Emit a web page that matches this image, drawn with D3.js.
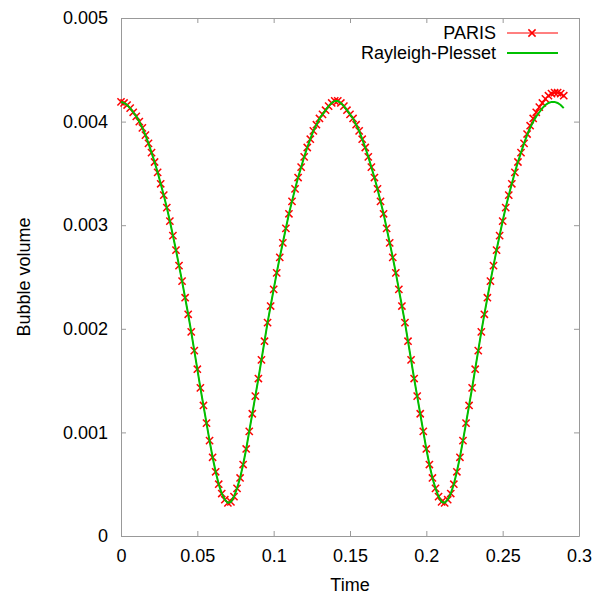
<!DOCTYPE html>
<html>
<head>
<meta charset="utf-8">
<script src="https://cdn.jsdelivr.net/npm/d3@7"></script>
<style>
  html, body { margin: 0; padding: 0; background: #fff; }
  svg { display: block; }
  text { font-family: "Liberation Sans", Arial, sans-serif; }
</style>
</head>
<body>
<svg id="chart" width="594" height="595"></svg>
<script>
// ---- Data ----
const times = [
  0.000,0.002,0.004,0.006,0.008,0.010,0.012,0.014,0.016,0.018,
  0.020,0.022,0.024,0.026,0.028,0.030,0.032,0.034,0.036,0.038,
  0.040,0.042,0.044,0.046,0.048,0.050,0.052,0.054,0.056,0.058,
  0.060,0.062,0.064,0.066,0.068,0.070,0.072,0.074,0.076,0.078,
  0.080,0.082,0.084,0.086,0.088,0.090,0.092,0.094,0.096,0.098,
  0.100,0.102,0.104,0.106,0.108,0.110,0.112,0.114,0.116,0.118,
  0.120,0.122,0.124,0.126,0.128,0.130,0.132,0.134,0.136,0.138,
  0.140,0.142,0.144,0.146,0.148,0.150,0.152,0.154,0.156,0.158,
  0.160,0.162,0.164,0.166,0.168,0.170,0.172,0.174,0.176,0.178,
  0.180,0.182,0.184,0.186,0.188,0.190,0.192,0.194,0.196,0.198,
  0.200,0.202,0.204,0.206,0.208,0.210,0.212,0.214,0.216,0.218,
  0.220,0.222,0.224,0.226,0.228,0.230,0.232,0.234,0.236,0.238,
  0.240,0.242,0.244,0.246,0.248,0.250,0.252,0.254,0.256,0.258,
  0.260,0.262,0.264,0.266,0.268,0.270,0.272,0.274,0.276,0.278,
  0.280,0.282,0.284,0.286,0.288,0.290
];

const parisVolume = [
  0.00419,0.00418,0.00416,0.00413,0.00409,0.00405,0.00400,0.00394,0.00387,0.00379,
  0.00370,0.00361,0.00351,0.00340,0.00329,0.00317,0.00304,0.00290,0.00276,0.00261,
  0.00246,0.00230,0.00214,0.00197,0.00179,0.00161,0.00143,0.00126,0.00109,0.00092,
  0.00076,0.00062,0.00050,0.00041,0.00035,0.00032,0.00033,0.00038,0.00046,0.00056,
  0.00069,0.00084,0.00101,0.00118,0.00135,0.00152,0.00170,0.00188,0.00206,0.00222,
  0.00238,0.00254,0.00269,0.00283,0.00297,0.00311,0.00323,0.00335,0.00346,0.00356,
  0.00366,0.00375,0.00383,0.00391,0.00397,0.00403,0.00407,0.00411,0.00415,0.00418,
  0.00420,0.00420,0.00418,0.00415,0.00411,0.00407,0.00403,0.00397,0.00391,0.00383,
  0.00375,0.00366,0.00356,0.00346,0.00335,0.00323,0.00311,0.00297,0.00283,0.00269,
  0.00254,0.00238,0.00222,0.00206,0.00188,0.00170,0.00152,0.00135,0.00118,0.00101,
  0.00084,0.00069,0.00056,0.00046,0.00038,0.00033,0.00032,0.00035,0.00041,0.00050,
  0.00062,0.00076,0.00092,0.00109,0.00126,0.00143,0.00161,0.00179,0.00197,0.00214,
  0.00230,0.00246,0.00261,0.00276,0.00290,0.00304,0.00317,0.00329,0.00340,0.00351,
  0.00361,0.00370,0.00379,0.00388,0.00396,0.00403,0.00409,0.00414,0.00418,0.00422,
  0.00425,0.00427,0.00428,0.00428,0.00427,0.00425
];

const rpVolume = [
  0.00419,0.00418,0.00416,0.00413,0.00409,0.00405,0.00400,0.00394,0.00387,0.00379,
  0.00370,0.00361,0.00351,0.00340,0.00329,0.00317,0.00304,0.00290,0.00276,0.00261,
  0.00246,0.00230,0.00214,0.00197,0.00179,0.00161,0.00143,0.00126,0.00109,0.00092,
  0.00076,0.00062,0.00050,0.00041,0.00035,0.00032,0.00033,0.00038,0.00046,0.00056,
  0.00069,0.00084,0.00101,0.00118,0.00135,0.00152,0.00170,0.00188,0.00206,0.00222,
  0.00238,0.00254,0.00269,0.00283,0.00297,0.00311,0.00323,0.00335,0.00346,0.00356,
  0.00366,0.00375,0.00383,0.00391,0.00397,0.00403,0.00407,0.00411,0.00415,0.00418,
  0.00420,0.00420,0.00418,0.00415,0.00411,0.00407,0.00403,0.00397,0.00391,0.00383,
  0.00375,0.00366,0.00356,0.00346,0.00335,0.00323,0.00311,0.00297,0.00283,0.00269,
  0.00254,0.00238,0.00222,0.00206,0.00188,0.00170,0.00152,0.00135,0.00118,0.00101,
  0.00084,0.00069,0.00056,0.00046,0.00038,0.00033,0.00032,0.00035,0.00041,0.00050,
  0.00062,0.00076,0.00092,0.00109,0.00126,0.00143,0.00161,0.00179,0.00197,0.00214,
  0.00230,0.00246,0.00261,0.00276,0.00290,0.00304,0.00317,0.00329,0.00340,0.00351,
  0.00361,0.00370,0.00379,0.00387,0.00394,0.00400,0.00405,0.00409,0.00413,0.00416,
  0.00418,0.00419,0.00419,0.00418,0.00416,0.00413
];

const xTicks = [0, 0.05, 0.1, 0.15, 0.2, 0.25, 0.3];
const xTickLabels = ["0", "0.05", "0.1", "0.15", "0.2", "0.25", "0.3"];
const yTicks = [0, 0.001, 0.002, 0.003, 0.004, 0.005];
const yTickLabels = ["0", "0.001", "0.002", "0.003", "0.004", "0.005"];
const seriesNames = ["PARIS", "Rayleigh-Plesset"];

// ---- Layout ----
const L = 121, R = 579, T = 18, B = 536;
const svg = d3.select("#chart");
const x = d3.scaleLinear().domain([0, 0.3]).range([L, R]);
const y = d3.scaleLinear().domain([0, 0.005]).range([B, T]);

const axisColor = "#999";
const fontSize = 18;

function styleAxis(g) {
  g.select(".domain").attr("stroke", axisColor).attr("stroke-width", 1);
  g.selectAll(".tick line").attr("stroke", axisColor).attr("stroke-width", 1);
  g.selectAll(".tick text").attr("fill", "#000").style("font-size", fontSize + "px")
    .style("font-family", "'Liberation Sans', Arial, sans-serif");
}

// Bottom axis
svg.append("g").attr("transform", `translate(0,${B})`)
  .call(d3.axisBottom(x).tickValues(xTicks).tickFormat((d, i) => xTickLabels[i])
    .tickSizeInner(-5).tickSizeOuter(0).tickPadding(13))
  .call(styleAxis);
// Top axis (mirror ticks)
svg.append("g").attr("transform", `translate(0,${T})`)
  .call(d3.axisTop(x).tickValues(xTicks).tickFormat(() => "")
    .tickSizeInner(-5).tickSizeOuter(0))
  .call(styleAxis);
// Left axis
svg.append("g").attr("transform", `translate(${L},0)`)
  .call(d3.axisLeft(y).tickValues(yTicks).tickFormat((d, i) => yTickLabels[i])
    .tickSizeInner(-5).tickSizeOuter(0).tickPadding(13))
  .call(styleAxis);
// Right axis
svg.append("g").attr("transform", `translate(${R},0)`)
  .call(d3.axisRight(y).tickValues(yTicks).tickFormat(() => "")
    .tickSizeInner(-5).tickSizeOuter(0))
  .call(styleAxis);

// Axis titles
svg.append("text").attr("x", (L + R) / 2).attr("y", 591)
  .attr("text-anchor", "middle").style("font-size", fontSize + "px").attr("fill", "#000")
  .text("Time");
svg.append("text").attr("transform", `translate(30,${(T + B) / 2}) rotate(-90)`)
  .attr("text-anchor", "middle").style("font-size", fontSize + "px").attr("fill", "#000")
  .text("Bubble volume");

// ---- Series ----
const paris = times.map((t, i) => ({ t, v: parisVolume[i] }));
const rp = times.map((t, i) => ({ t, v: rpVolume[i] }));

const line = d3.line().x(d => x(d.t)).y(d => y(d.v));

const red = "#ff0000", green = "#00c000";
const ms = 3.6;
function cross(sel) {
  sel.append("line").attr("x1", -ms).attr("y1", -ms).attr("x2", ms).attr("y2", ms);
  sel.append("line").attr("x1", -ms).attr("y1", ms).attr("x2", ms).attr("y2", -ms);
}

svg.append("path").datum(paris).attr("d", line)
  .attr("fill", "none").attr("stroke", red).attr("stroke-width", 1);

const mk = svg.append("g").attr("stroke", red).attr("stroke-width", 1.5)
  .selectAll("g").data(paris).join("g")
  .attr("transform", d => `translate(${x(d.t)},${y(d.v)})`);
cross(mk);

svg.append("path").datum(rp).attr("d", line)
  .attr("fill", "none").attr("stroke", green).attr("stroke-width", 2);

// ---- Legend ----
const legendColors = [red, green];
const lg = svg.append("g");
seriesNames.forEach((name, i) => {
  const cy = 33 + i * 20;
  lg.append("text").attr("x", 496).attr("y", cy + 6)
    .attr("text-anchor", "end").style("font-size", fontSize + "px").attr("fill", "#000")
    .text(name);
  lg.append("line").attr("x1", 507).attr("x2", 558).attr("y1", cy).attr("y2", cy)
    .attr("stroke", legendColors[i]).attr("stroke-width", i === 0 ? 1 : 2);
  if (i === 0) {
    const m = lg.append("g").attr("transform", `translate(532,${cy})`)
      .attr("stroke", red).attr("stroke-width", 1.5);
    cross(m);
  }
});
</script>
</body>
</html>
